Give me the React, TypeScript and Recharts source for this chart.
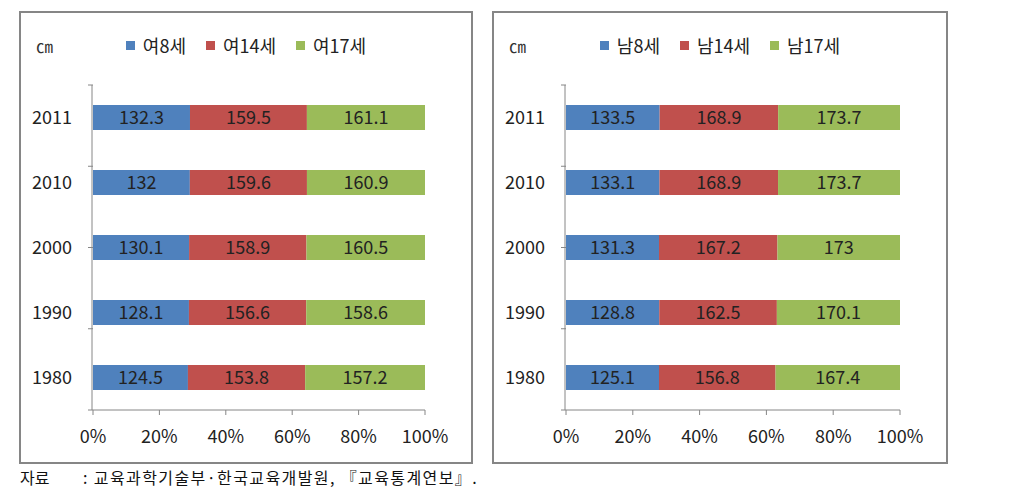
import { BarChart, Bar, XAxis, YAxis, Legend, LabelList } from "recharts"

const years = ["2011", "2010", "2000", "1990", "1980"]
const girl8 = [132.3, 132, 130.1, 128.1, 124.5]
const girl14 = [159.5, 159.6, 158.9, 156.6, 153.8]
const girl17 = [161.1, 160.9, 160.5, 158.6, 157.2]
const boy8 = [133.5, 133.1, 131.3, 128.8, 125.1]
const boy14 = [168.9, 168.9, 167.2, 162.5, 156.8]
const boy17 = [173.7, 173.7, 173, 170.1, 167.4]
const girlNames = ["여8세", "여14세", "여17세"]
const boyNames = ["남8세", "남14세", "남17세"]
const pctTicks = [0, 0.2, 0.4, 0.6, 0.8, 1]
const bandTicks = [0, 1, 2, 3, 4, 5]

const COLORS = ["#4F81BD", "#C0504D", "#9BBB59"]
const FONT = "'Noto Sans CJK KR', sans-serif"
const AXIS = "#868686"

const girlData = years.map((y, i) => ({ year: y, a: girl8[i], b: girl14[i], c: girl17[i] }))
const boyData = years.map((y, i) => ({ year: y, a: boy8[i], b: boy14[i], c: boy17[i] }))

// legend keeps series order (recharts would sort it by name)
function LegendRow({ names }: { names: string[] }) {
    return (
        <div style={{ height: 24, display: "flex", justifyContent: "center", alignItems: "center", gap: 20, fontFamily: FONT, fontSize: 18, color: "#222" }}>
            {names.map((n, i) => (
                <div key={n} style={{ display: "flex", alignItems: "center" }}>
                    <span style={{ width: 9, height: 9, background: COLORS[i], marginRight: 8, display: "inline-block" }} />
                    <span>{n}</span>
                </div>
            ))}
        </div>
    )
}

// small tick mark between categories (Excel style)
const BandTick = ({ x, y }: any) => <line x1={x - 5} x2={x} y1={y} y2={y} stroke={AXIS} strokeWidth={1} />

function Panel({ data, names, left, width }: { data: any[]; names: string[]; left: number; width: number }) {
    return (
        <div style={{ position: "absolute", left, top: 11, width, height: 449, border: `2px solid ${AXIS}`, background: "#fff" }}>
            <div style={{ position: "absolute", left: 15, top: 20, fontFamily: "'Liberation Serif', 'Noto Sans CJK KR', serif", fontSize: 17, color: "#333" }}>
                ㎝
            </div>
            <BarChart
                width={width}
                height={449}
                data={data}
                layout="vertical"
                stackOffset="expand"
                margin={{ top: 48, right: 46, bottom: 0, left: 0 }}
                style={{ fontFamily: FONT }}
            >
                <YAxis
                    yAxisId="band"
                    type="number"
                    domain={[0, 5]}
                    ticks={bandTicks}
                    interval={0}
                    width={1}
                    tick={<BandTick />}
                    axisLine={false}
                    tickLine={false}
                    tickSize={0}
                    tickMargin={0}
                />
                <YAxis
                    yAxisId="cat"
                    dataKey="year"
                    type="category"
                    width={71}
                    tickSize={0}
                    tickMargin={20}
                    axisLine={{ stroke: AXIS }}
                    tickLine={false}
                    tick={{ fontSize: 18, fill: "#222" }}
                />
                <XAxis
                    type="number"
                    domain={[0, 1]}
                    ticks={pctTicks}
                    height={52}
                    tickSize={5}
                    tickMargin={15}
                    axisLine={{ stroke: AXIS }}
                    tickLine={{ stroke: AXIS }}
                    tick={{ fontSize: 18, fill: "#222" }}
                    tickFormatter={(v: number) => `${Math.round(v * 100)}%`}
                />
                <Legend verticalAlign="top" content={<LegendRow names={names} />} wrapperStyle={{ top: 20, left: 0, width }} />
                {["a", "b", "c"].map((k, i) => (
                    <Bar key={k} yAxisId="cat" dataKey={k} name={names[i]} stackId="s" fill={COLORS[i]} barSize={25} isAnimationActive={false}>
                        <LabelList dataKey={k} position="center" fill="#222" fontSize={18} />
                    </Bar>
                ))}
            </BarChart>
        </div>
    )
}

export default function App() {
    return (
        <div style={{ position: "absolute", left: 0, top: 0, width: 1030, height: 495, background: "#fff", overflow: "hidden" }}>
            <Panel data={girlData} names={girlNames} left={19} width={450} />
            <Panel data={boyData} names={boyNames} left={492} width={452} />
            <div style={{ position: "absolute", left: 20, top: 465, fontFamily: FONT, fontSize: 16, color: "#111" }}>자료</div>
            <div style={{ position: "absolute", left: 83, top: 465, fontFamily: FONT, fontSize: 16, letterSpacing: 1.4, color: "#111", whiteSpace: "pre" }}>
                {": 교육과학기술부·한국교육개발원, 『교육통계연보』."}
            </div>
        </div>
    )
}
